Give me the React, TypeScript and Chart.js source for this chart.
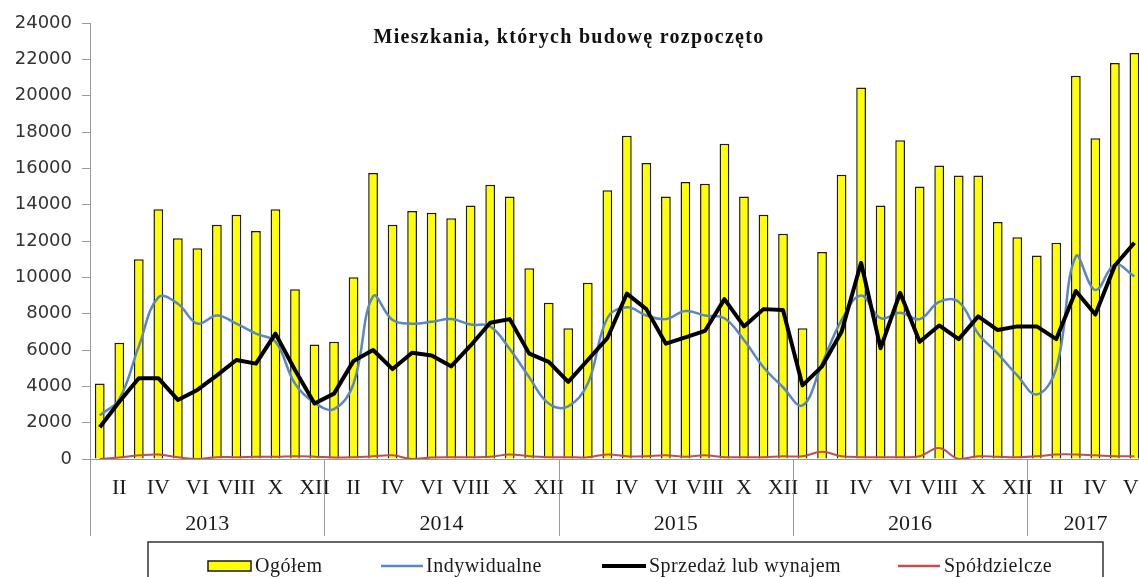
import React, { useEffect, useRef } from "react";
import { Chart, registerables } from "chart.js";

Chart.register(...registerables);

const romans = ["I", "II", "III", "IV", "V", "VI", "VII", "VIII", "IX", "X", "XI", "XII"];
const years = ["2013", "2014", "2015", "2016", "2017"];
const monthsPerYear = [12, 12, 12, 12, 6];
const labels: string[] = [];
years.forEach((y, k) => {
  for (let m = 0; m < monthsPerYear[k]; m++) labels.push(romans[m]);
});

const seriesNames = ["Ogółem", "Indywidualne", "Sprzedaż lub wynajem", "Spółdzielcze"];
const chartTitle = "Mieszkania, których budowę rozpoczęto";

const ogolem = [
  4150, 6400, 11000, 13750, 12150, 11600, 12900, 13450, 12550, 13750, 9350, 6300,
  6450, 10000, 15750, 12900, 13650, 13550, 13250, 13950, 15100, 14450, 10500, 8600,
  7200, 9700, 14800, 17800, 16300, 14450, 15250, 15150, 17350, 14450, 13450, 12400,
  7200, 11400, 15650, 20450, 13950, 17550, 15000, 16150, 15600, 15600, 13050, 12200,
  11200, 11900, 21100, 17650, 21800, 22350,
];
const indywidualne = [
  2400, 3300, 6200, 8900, 8550, 7450, 7900, 7450, 6900, 6450, 4150, 3100,
  2750, 4150, 8950, 7650, 7450, 7550, 7700, 7400, 7300, 6050, 4500, 3050,
  2900, 4150, 7750, 8350, 7900, 7700, 8150, 7900, 7750, 6550, 5050, 3950,
  2950, 5250, 7650, 9000, 7750, 8050, 7700, 8650, 8650, 6900, 5800, 4600,
  3550, 5000, 11150, 9300, 10700, 10050,
];
const sprzedaz = [
  1750, 3150, 4450, 4450, 3250, 3800, 4600, 5450, 5250, 6900, 4900, 3050,
  3600, 5400, 6000, 4950, 5850, 5700, 5100, 6250, 7500, 7700, 5800, 5350,
  4250, 5450, 6650, 9100, 8250, 6350, 6700, 7050, 8800, 7300, 8250, 8200,
  4050, 5100, 7000, 10800, 6100, 9150, 6450, 7350, 6600, 7850, 7100, 7300,
  7300, 6600, 9250, 7950, 10650, 11900,
];
const spoldzielcze = [
  0, 80, 200, 250, 100, 0, 100, 100, 120, 120, 150, 130,
  80, 100, 150, 200, 0, 80, 100, 100, 120, 250, 150, 100,
  100, 100, 250, 150, 150, 200, 120, 200, 100, 100, 100, 150,
  150, 400, 150, 100, 100, 100, 150, 600, 0, 150, 120, 100,
  150, 250, 250, 200, 150, 150,
];

const AXIS_GRAY = "#9a9a9a";

const decor = {
  id: "decor",
  afterDraw(chart: any) {
    const { ctx, scales } = chart;
    const x = scales.x;
    const half = (x.getPixelForValue(1) - x.getPixelForValue(0)) / 2;
    const axisY = chart.chartArea.bottom;
    ctx.save();
    // year dividers and labels
    let start = 0;
    years.forEach((yr, k) => {
      const n = monthsPerYear[k];
      const left = x.getPixelForValue(start) - half;
      const right = x.getPixelForValue(start + n - 1) + half;
      ctx.strokeStyle = AXIS_GRAY;
      ctx.lineWidth = 1;
      ctx.beginPath();
      ctx.moveTo(Math.round(left) + 0.5, axisY);
      ctx.lineTo(Math.round(left) + 0.5, axisY + 77);
      ctx.stroke();
      ctx.fillStyle = "#1a1a1a";
      ctx.font = '22px "Liberation Serif"';
      ctx.textAlign = "center";
      ctx.textBaseline = "middle";
      ctx.fillText(yr, (left + right) / 2, axisY + 65);
      start += n;
    });
    // title
    ctx.fillStyle = "#111";
    ctx.font = 'bold 20px "Liberation Serif"';
    (ctx as any).letterSpacing = "1.3px";
    ctx.textAlign = "center";
    ctx.textBaseline = "alphabetic";
    ctx.fillText(chartTitle, 569, 43);
    (ctx as any).letterSpacing = "0px";
    // legend
    const boxTop = 542;
    ctx.strokeStyle = "#333";
    ctx.lineWidth = 1.5;
    ctx.strokeRect(148, boxTop, 955, 60);
    const cy = 566;
    ctx.font = '20px "Liberation Serif"';
    (ctx as any).letterSpacing = "0.5px";
    ctx.textAlign = "left";
    ctx.textBaseline = "middle";
    ctx.fillStyle = "#FFFF00";
    ctx.fillRect(208, cy - 5, 43, 10);
    ctx.strokeStyle = "#1a1a1a";
    ctx.lineWidth = 1.5;
    ctx.strokeRect(208, cy - 5, 43, 10);
    ctx.fillStyle = "#1a1a1a";
    ctx.fillText(seriesNames[0], 255, cy + 1);
    const lineItem = (x0: number, x1: number, color: string, w: number, tx: number, text: string) => {
      ctx.strokeStyle = color;
      ctx.lineWidth = w;
      ctx.beginPath();
      ctx.moveTo(x0, cy);
      ctx.lineTo(x1, cy);
      ctx.stroke();
      ctx.fillStyle = "#1a1a1a";
      ctx.fillText(text, tx, cy + 1);
    };
    lineItem(381, 423, "#5B87C0", 2.5, 426, seriesNames[1]);
    lineItem(602, 646, "#000000", 4, 649, seriesNames[2]);
    lineItem(898, 940, "#C0504D", 2.5, 944, seriesNames[3]);
    (ctx as any).letterSpacing = "0px";
    ctx.restore();
  },
};

export default function App() {
  const ref = useRef<HTMLCanvasElement>(null);
  useEffect(() => {
    const canvas = ref.current!;
    const chart = new Chart(canvas, {
      type: "bar",
      data: {
        labels,
        datasets: [
          {
            type: "bar",
            label: seriesNames[0],
            data: ogolem,
            backgroundColor: "#FFFF00",
            borderColor: "#1a1a1a",
            borderWidth: 1.5,
            barPercentage: 0.5,
            categoryPercentage: 1,
            order: 4,
          },
          {
            type: "line",
            label: seriesNames[1],
            data: indywidualne,
            borderColor: "#5B87C0",
            borderWidth: 2.5,
            tension: 0.4,
            pointRadius: 0,
            order: 3,
          },
          {
            type: "line",
            label: seriesNames[2],
            data: sprzedaz,
            borderColor: "#000000",
            borderWidth: 4,
            tension: 0,
            pointRadius: 0,
            borderJoinStyle: "round",
            order: 2,
          },
          {
            type: "line",
            label: seriesNames[3],
            data: spoldzielcze,
            borderColor: "#C0504D",
            borderWidth: 2,
            tension: 0.4,
            pointRadius: 0,
            order: 1,
          },
        ] as any,
      },
      options: {
        animation: false,
        responsive: false,
        layout: { padding: { top: 23, left: 0, right: 0, bottom: 0 } },
        plugins: {
          legend: { display: false },
          title: { display: false },
          tooltip: { enabled: false },
        },
        scales: {
          x: {
            grid: { display: false, drawTicks: false },
            border: { display: true, color: AXIS_GRAY, width: 1 },
            ticks: {
              autoSkip: false,
              maxRotation: 0,
              minRotation: 0,
              padding: 16,
              color: "#1a1a1a",
              font: { family: '"Liberation Serif"', size: 22 },
              callback: (v: any, i: number) => ((i % 12) % 2 === 1 ? labels[i] : ""),
            },
            afterFit: (s: any) => {
              s.height = 118;
            },
          },
          y: {
            min: 0,
            max: 24000,
            ticks: {
              stepSize: 2000,
              padding: 10,
              color: "#333333",
              font: { family: '"DejaVu Sans"', size: 18 },
              callback: (v: any) => String(v),
            },
            grid: { drawOnChartArea: false, drawTicks: true, tickLength: 8, color: AXIS_GRAY },
            border: { display: true, color: AXIS_GRAY, width: 1 },
            afterFit: (s: any) => {
              s.width = 90;
            },
          },
        },
      } as any,
      plugins: [decor],
    });
    return () => chart.destroy();
  }, []);
  return (
    <div
      style={{
        position: "fixed",
        left: 0,
        top: 0,
        width: 1139,
        height: 577,
        overflow: "hidden",
        background: "#ffffff",
      }}
    >
      <canvas ref={ref} width={1162} height={577} style={{ display: "block" }} />
    </div>
  );
}
